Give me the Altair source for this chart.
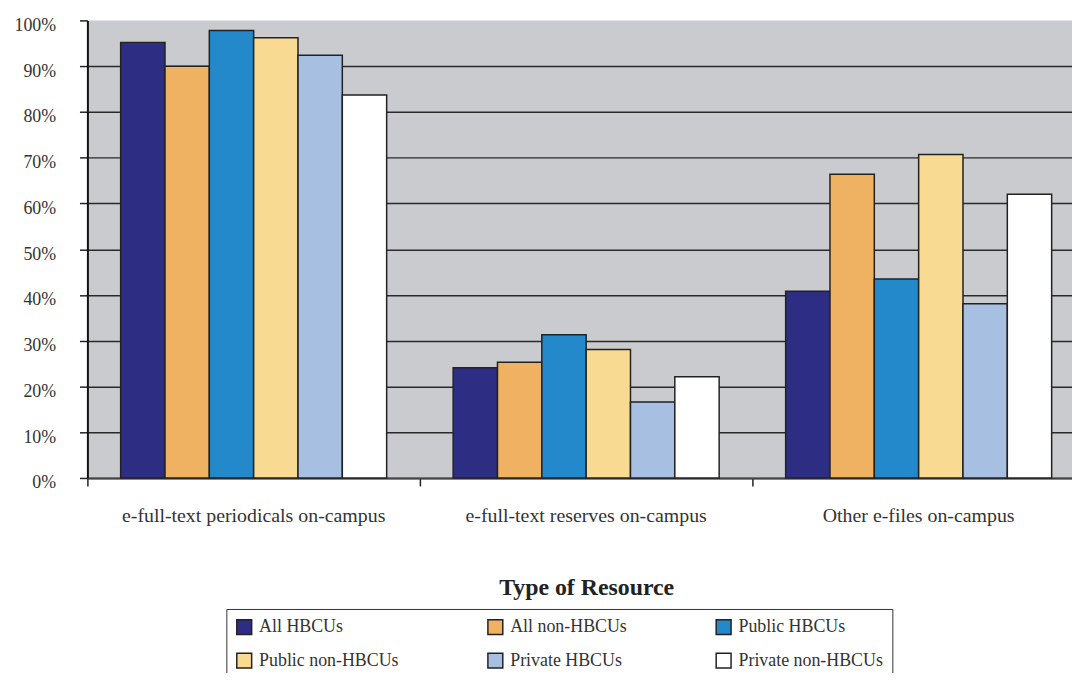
import altair as alt
import pandas as pd

resources = ["e-full-text periodicals on-campus", "e-full-text reserves on-campus", "Other e-files on-campus"]
groups = ["All HBCUs", "All non-HBCUs", "Public HBCUs", "Public non-HBCUs", "Private HBCUs", "Private non-HBCUs"]
colors = ["#2E2D84", "#EFB162", "#2389CB", "#F9DA93", "#A7BFE1", "#FFFFFF"]
periodicals = [95.2, 90.0, 97.8, 96.2, 92.4, 83.7]
reserves = [24.1, 25.3, 31.3, 28.1, 16.6, 22.1]
other_files = [40.8, 66.4, 43.5, 70.7, 38.1, 62.0]
y_ticks = [0, 0.1, 0.2, 0.3, 0.4, 0.5, 0.6, 0.7, 0.8, 0.9, 1.0]

rows = []
for res, vals in zip(resources, [periodicals, reserves, other_files]):
    for g, v in zip(groups, vals):
        rows.append({"resource": res, "group": g, "pct": v / 100})
df = pd.DataFrame(rows)

FONT = "Liberation Serif"

chart = alt.Chart(df).mark_bar(stroke="#222222", strokeWidth=1.5, opacity=1).encode(
    x=alt.X(
        "resource:N", sort=resources, title="Type of Resource",
        scale=alt.Scale(range=[0, 1005], paddingInner=0, paddingOuter=0),
        axis=alt.Axis(
            labelAngle=0, bandPosition=0, tickSize=8, tickColor="#222222", tickWidth=1.5,
            domainColor="#444444", domainWidth=2, labelFont=FONT, labelFontSize=20,
            labelColor="#333333", labelPadding=20, labelLimit=0, titleFont=FONT, titleFontSize=24,
            titleFontWeight="bold", titleColor="#222222", titlePadding=50,
        ),
    ),
    xOffset=alt.XOffset("group:N", sort=groups, scale=alt.Scale(paddingInner=0, paddingOuter=0.75)),
    y=alt.Y(
        "pct:Q", title=None, scale=alt.Scale(domain=[0, 1]),
        axis=alt.Axis(
            format="%", values=y_ticks, tickSize=8, tickColor="#222222", tickWidth=1.5,
            domainColor="#111111", domainWidth=2, labelFont=FONT, labelFontSize=18,
            labelColor="#333333", labelPadding=24, labelOffset=5,
            grid=True, gridColor="#2a2a2a", gridWidth=1.5,
            gridOpacity={"condition": {"test": "datum.value >= 1", "value": 0}, "value": 1},
        ),
    ),
    color=alt.Color(
        "group:N", sort=groups,
        scale=alt.Scale(domain=groups, range=colors),
        legend=alt.Legend(
            orient="none", direction="horizontal", legendX=140, legendY=593, columns=3, title=None,
            symbolType="square", symbolSize=225, symbolStrokeColor="#222222",
            symbolStrokeWidth=1.5, symbolOpacity=1, labelFont=FONT, labelFontSize=18,
            labelColor="#333333", labelOffset=6, rowPadding=12, columnPadding=86,
            strokeColor="#333333", padding=9, gridAlign="each", fillColor="white",
        ),
    ),
).properties(
    width=992, height=461,
    autosize=alt.AutoSizeParams(type="none"),
    padding={"left": 80, "top": 10, "right": 0, "bottom": 194},
    background="white",
).configure_view(fill="#C9CBCE", stroke=None)

chart.save("out.html", embed_options={"renderer": "svg", "actions": False})
